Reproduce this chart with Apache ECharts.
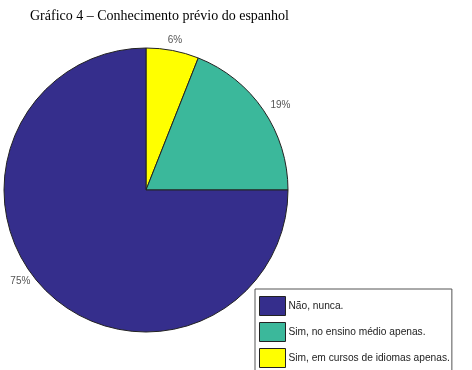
<!DOCTYPE html>
<html><head><meta charset="utf-8">
<script src="https://cdn.jsdelivr.net/npm/echarts@6/dist/echarts.min.js"></script>
<style>html,body{margin:0;padding:0;background:#fff}#c{width:472px;height:370px}</style>
</head><body><div id="c"></div>
<script>
const titleText = "Gráfico 4 – Conhecimento prévio do espanhol";
const categories = ["Sim, em cursos de idiomas apenas.", "Sim, no ensino médio apenas.", "Não, nunca."];
const values = [6, 19, 75];
const colors = ["#ffff00", "#3bb89b", "#352e8c"];
const legendOrder = ["Não, nunca.", "Sim, no ensino médio apenas.", "Sim, em cursos de idiomas apenas."];
const labelNudge = [[-11, -4], [-3, -2], [-6, -13]];

const chart = echarts.init(document.getElementById('c'), null, {renderer: 'canvas'});
chart.setOption({
  animation: false,
  title: {text: titleText, left: 25, top: 4,
    textStyle: {fontFamily: 'Liberation Serif', fontWeight: 'normal', fontSize: 14, color: '#000'}},
  legend: {
    data: legendOrder, orient: 'vertical', left: 255, top: 289,
    height: 80, padding: [7, 2, 12, 4], itemGap: 6,
    itemWidth: 26, itemHeight: 19, borderColor: '#555', borderWidth: 1,
    icon: 'rect', selectedMode: false,
    itemStyle: {borderColor: '#222', borderWidth: 1},
    textStyle: {fontFamily: 'Liberation Sans', fontSize: 10.2, color: '#222', padding: [0,0,0,-2]}
  },
  series: [{
    type: 'pie', center: [146, 190], radius: [0, 142], startAngle: 90, clockwise: true,
    data: categories.map((n, i) => ({name: n, value: values[i], itemStyle: {color: colors[i]}})),
    itemStyle: {borderColor: '#222', borderWidth: 1},
    label: {show: true, position: 'outside', formatter: '{c}%', fontFamily: 'Liberation Sans',
      fontSize: 10, color: '#555'},
    labelLine: {show: false, length: 6, length2: 0},
    labelLayout: p => ({dx: labelNudge[p.dataIndex][0], dy: labelNudge[p.dataIndex][1]}),
    emphasis: {disabled: true}
  }]
});
</script></body></html>
